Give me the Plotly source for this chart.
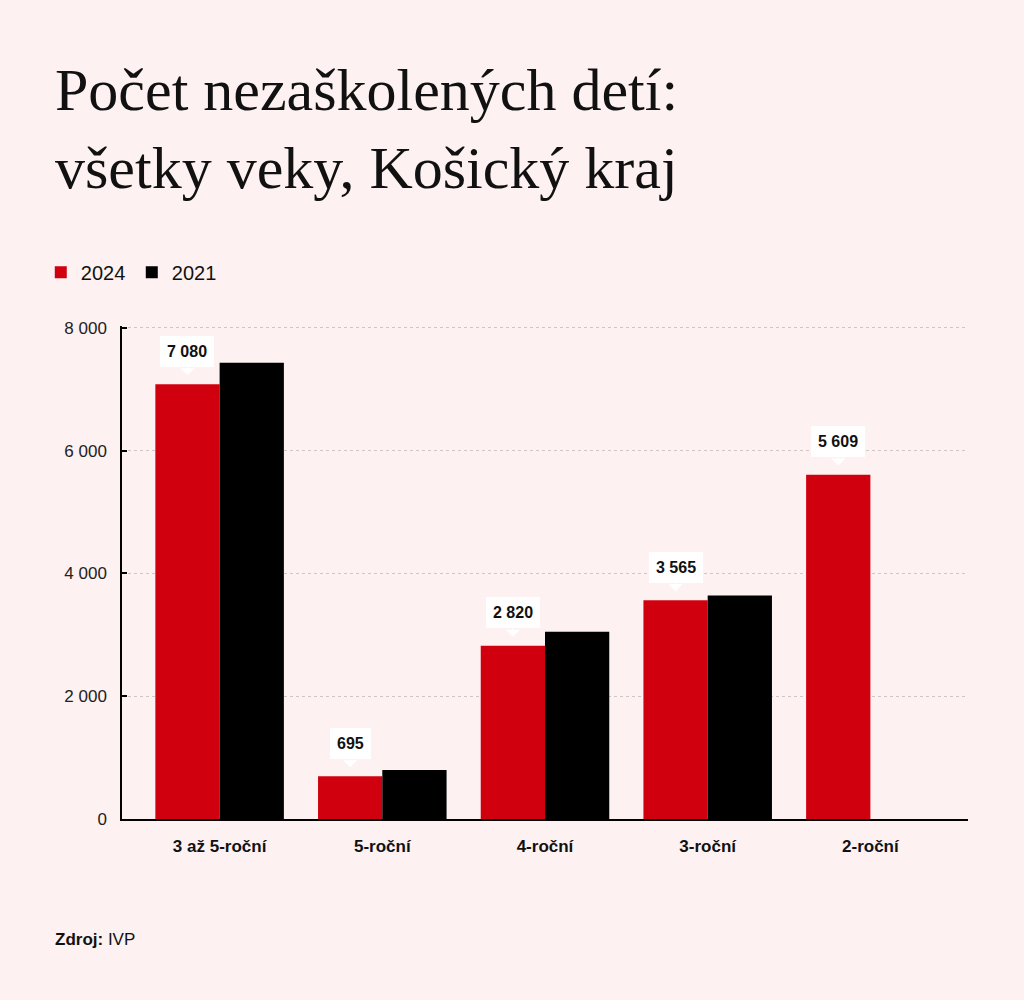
import plotly.graph_objects as go

# data
categories = ["3 až 5-roční", "5-roční", "4-roční", "3-roční", "2-roční"]
values_2024 = [7080, 695, 2820, 3565, 5609]
values_2021 = [7430, 800, 3050, 3640, None]
y_ticks = [0, 2000, 4000, 6000, 8000]

RED = "#d0000f"
BG = "#fdf1f1"
SANS = "Liberation Sans, Arial, sans-serif"

BARGAP = 0.21
bar_w = (1 - BARGAP) / 2


def fmt(v):
    return f"{v:,}".replace(",", " ")


fig = go.Figure()
fig.add_trace(go.Bar(x=categories, y=values_2024, name="2024",
                     marker=dict(color=RED, line=dict(width=0))))
fig.add_trace(go.Bar(x=categories, y=values_2021, name="2021",
                     marker=dict(color="#000000", line=dict(width=0))))

# callout labels above the 2024 bars (white box + triangle pointer)
for i, v in enumerate(values_2024):
    fig.add_annotation(
        x=i - bar_w / 2, y=v, xref="x", yref="y",
        text=f"<b>{fmt(v)}</b>",
        font=dict(family=SANS, size=16, color="#111"),
        bgcolor="white", bordercolor="white", borderpad=6,
        showarrow=True, ax=0, ay=-33, arrowhead=1, arrowsize=2.4,
        arrowwidth=1, arrowcolor="white", standoff=9,
    )

fig.add_annotation(
    x=-0.0816, y=-0.244, xref="paper", yref="paper",
    xanchor="left", yanchor="middle", showarrow=False,
    text="<b>Zdroj:</b> IVP",
    font=dict(family=SANS, size=17, color="#111"),
)

fig.update_layout(
    width=1024, height=1000,
    paper_bgcolor=BG, plot_bgcolor=BG,
    separators=", ",
    barmode="group", bargap=BARGAP, bargroupgap=0,
    margin=dict(l=122, r=56, t=326, b=181),
    title=dict(
        text="Počet nezaškolených detí:<br>všetky veky, Košický kraj",
        font=dict(family="Liberation Serif, Times New Roman, serif", size=60, color="#111"),
        x=55 / 1024, xanchor="left", xref="container",
        y=1 - 110 / 1000, yanchor="top", yref="container",
    ),
    legend=dict(
        orientation="h", x=-0.096, y=1.109, xanchor="left", yanchor="middle",
        font=dict(family=SANS, size=20, color="#111"),
        bgcolor="rgba(0,0,0,0)", entrywidth=46, entrywidthmode="pixels",
    ),
    font=dict(family=SANS),
    xaxis=dict(
        type="category", range=[-0.6, 4.6],
        showline=True, linecolor="#000", linewidth=1.5,
        ticks="", showgrid=False,
        tickfont=dict(family=SANS, size=17, color="#111", weight="bold"),
        ticklabelstandoff=11,
    ),
    yaxis=dict(
        range=[0, 8030], tickvals=y_ticks, tickformat=",d",
        showline=True, linecolor="#000", linewidth=1.5,
        ticks="inside", ticklen=5, tickcolor="#000", tickwidth=1.5,
        showgrid=True, gridcolor="#cfc6c6", griddash="dot", gridwidth=1,
        zeroline=False,
        tickfont=dict(family=SANS, size=17, color="#222"),
        ticklabelstandoff=10,
    ),
)

fig.write_html("out.html", config={"displayModeBar": False},
               post_script="document.body.style.margin='0';")
